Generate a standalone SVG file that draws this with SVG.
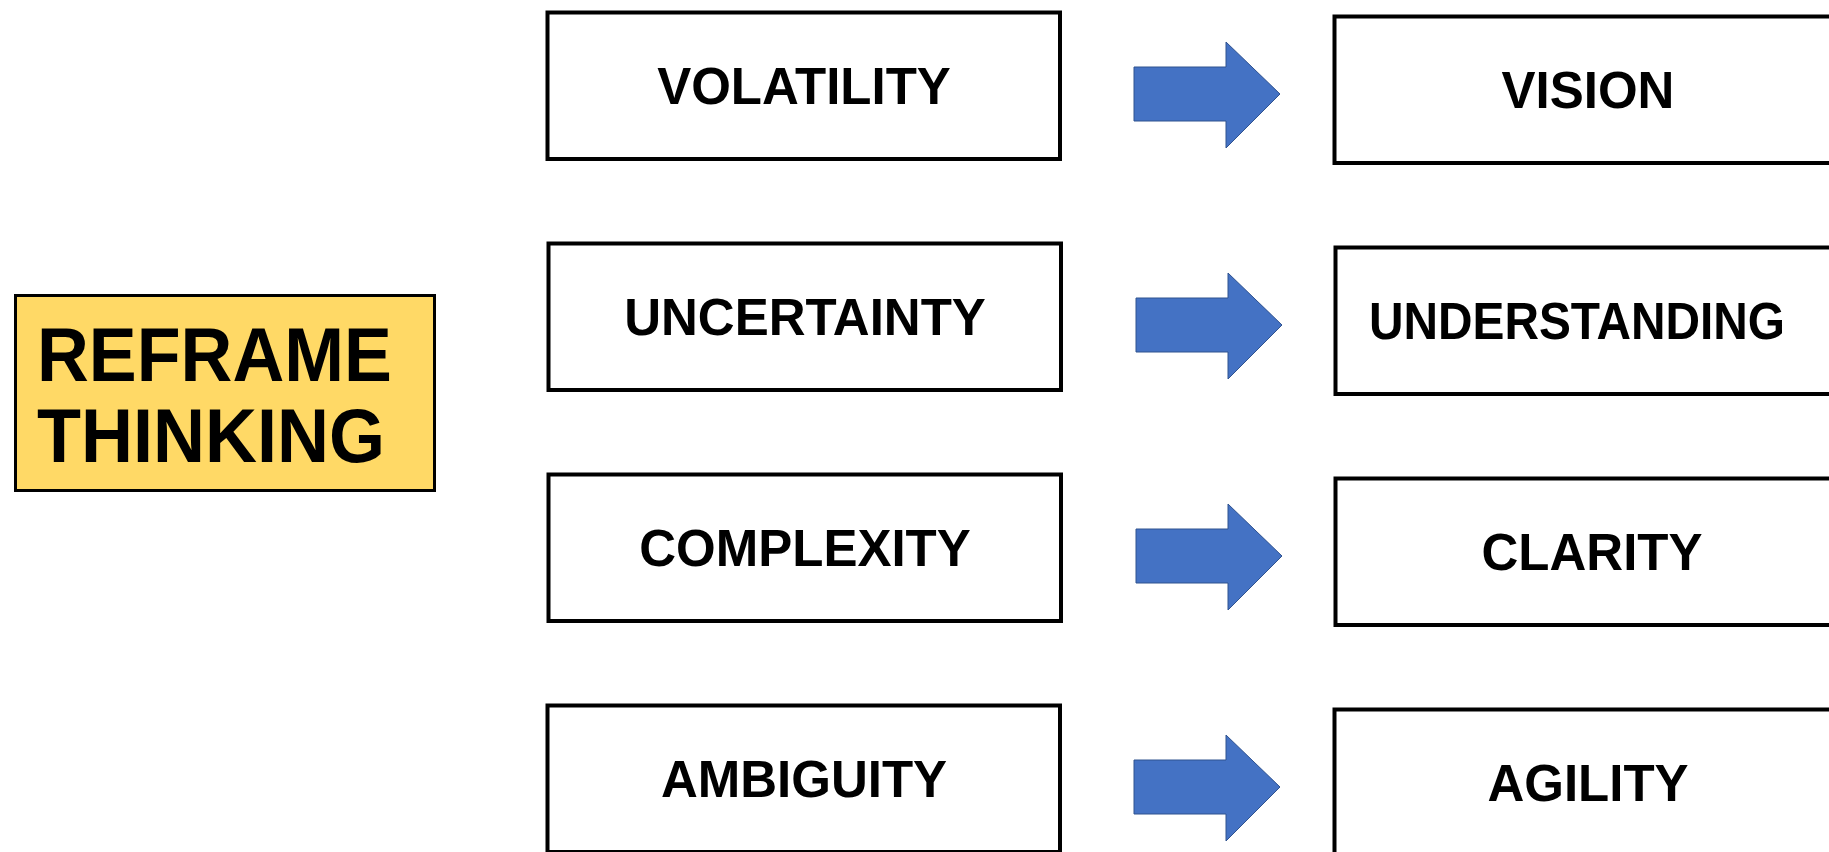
<svg xmlns="http://www.w3.org/2000/svg" width="1829" height="852" viewBox="0 0 1829 852">
  <defs>
    <style>
      .box { fill: #ffffff; stroke: #000000; stroke-width: 4; }
      .title-box { fill: #FFD966; stroke: #000000; stroke-width: 3; }
      .label { font-family: "Liberation Sans", Arial, sans-serif; font-weight: bold; font-size: 51px; fill: #000000; text-anchor: middle; }
      .title { font-family: "Liberation Sans", Arial, sans-serif; font-weight: bold; font-size: 76px; fill: #000000; }
      .arrow { fill: #4472C4; stroke: #2F528F; stroke-width: 1; }
    </style>
    <!-- block arrow, origin at the top-left corner of its shaft -->
    <path id="blockArrow" d="M0,0 H92 V-25 L146,27 L92,81 V54 H0 Z"/>
  </defs>

  <rect width="1829" height="852" fill="#ffffff"/>

  <g id="reframe-thinking">
    <rect class="title-box" x="15.5" y="295.5" width="419" height="195"/>
    <text class="title" x="37" y="381" textLength="355" lengthAdjust="spacingAndGlyphs">REFRAME</text>
    <text class="title" x="37" y="462" textLength="348" lengthAdjust="spacingAndGlyphs">THINKING</text>
  </g>

  <!-- challenges, left column -->
  <g id="volatility">
    <rect class="box" x="547.5" y="12.5" width="512.5" height="146.5"/>
    <text class="label" x="804" y="104">VOLATILITY</text>
  </g>
  <g id="uncertainty">
    <rect class="box" x="548.5" y="243.5" width="512.5" height="146.5"/>
    <text class="label" x="805" y="335">UNCERTAINTY</text>
  </g>
  <g id="complexity">
    <rect class="box" x="548.5" y="474.5" width="512.5" height="146.5"/>
    <text class="label" x="805" y="566">COMPLEXITY</text>
  </g>
  <g id="ambiguity">
    <rect class="box" x="547.5" y="705.5" width="512.5" height="146.5"/>
    <text class="label" x="804" y="797">AMBIGUITY</text>
  </g>

  <!-- responses, right column (runs past the right edge) -->
  <g id="vision">
    <rect class="box" x="1334.5" y="16.5" width="510" height="146.5"/>
    <text class="label" x="1588" y="108">VISION</text>
  </g>
  <g id="understanding">
    <rect class="box" x="1335.5" y="247.5" width="510" height="146.5"/>
    <text class="label" x="1577" y="339" textLength="416" lengthAdjust="spacingAndGlyphs">UNDERSTANDING</text>
  </g>
  <g id="clarity">
    <rect class="box" x="1335.5" y="478.5" width="510" height="146.5"/>
    <text class="label" x="1592" y="570">CLARITY</text>
  </g>
  <g id="agility">
    <rect class="box" x="1334.5" y="709.5" width="510" height="146.5"/>
    <text class="label" x="1588" y="801">AGILITY</text>
  </g>

  <g id="connectors">
    <use class="arrow" href="#blockArrow" transform="translate(1134,67)"/>
    <use class="arrow" href="#blockArrow" transform="translate(1136,298)"/>
    <use class="arrow" href="#blockArrow" transform="translate(1136,529)"/>
    <use class="arrow" href="#blockArrow" transform="translate(1134,760)"/>
  </g>
</svg>
